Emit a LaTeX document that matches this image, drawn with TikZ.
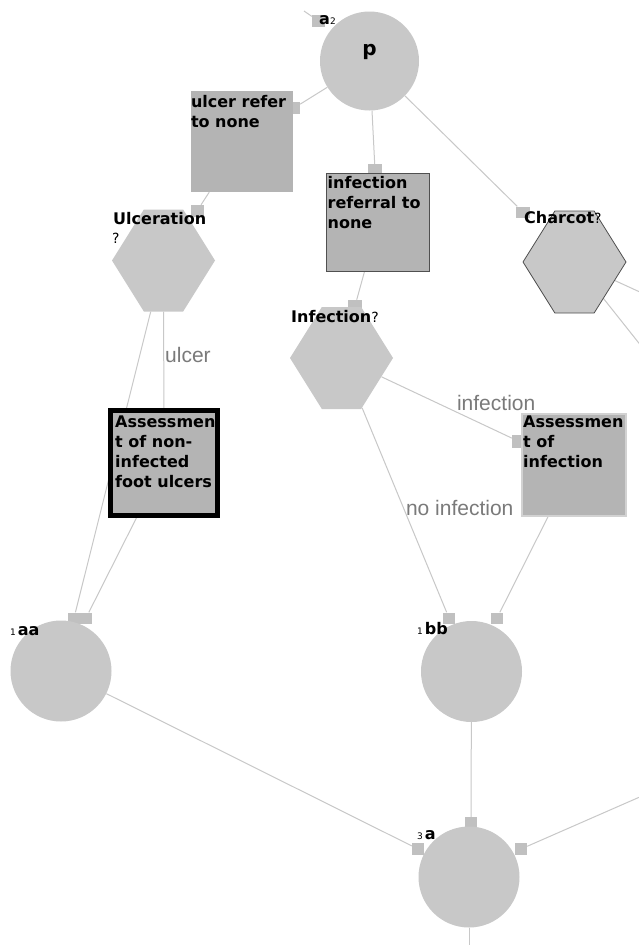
\documentclass[tikz,border=0pt]{standalone}
\usepackage{fontspec}
\setmainfont{DejaVu Sans}
\newfontfamily\linkfont{Liberation Sans}
\usetikzlibrary{shapes.geometric, shapes.symbols, positioning, calc}

\definecolor{shapegray}{HTML}{C8C8C8}
\definecolor{boxgray}{HTML}{B4B4B4}
\definecolor{portgray}{HTML}{C0C0C0}
\definecolor{linkgray}{HTML}{C8C8C8}
\definecolor{textgray}{HTML}{7A7A7A}
\definecolor{edgedark}{HTML}{505050}
\definecolor{boxedge}{HTML}{D2D2D2}

\pgfdeclarelayer{links}
\pgfdeclarelayer{ports}
\pgfsetlayers{links,ports,main}

\newcommand{\tagdigit}[1]{{\mdseries\fontsize{9}{9}\selectfont #1}}
\newcommand{\qmk}{{\mdseries\fontsize{14}{16}\selectfont ?}}

\tikzset{
  statecircle/.style={
    circle, fill=shapegray, inner sep=0pt, minimum size=101pt
  },
  choicehex/.style={
    signal, signal to=east and west, signal pointer angle=116,
    fill=shapegray, inner sep=0pt, minimum width=103pt, minimum height=102pt
  },
  actbox/.style={
    rectangle, fill=boxgray, inner sep=0pt
  },
  boxtext/.style={
    anchor=north west, inner sep=0pt, align=left,
    font=\bfseries\fontsize{16}{20}\selectfont
  },
  porttab/.style={
    rectangle, fill=portgray, inner sep=0pt,
    minimum width=12pt, minimum height=11pt
  },
  link/.style={draw=linkgray, line width=1pt},
  linklabel/.style={
    font=\linkfont\fontsize{21}{23}\selectfont, text=textgray, inner sep=1pt
  },
  choicetag/.style={
    anchor=base west, inner sep=0pt, font=\bfseries\fontsize{16}{18}\selectfont
  },
  statetag/.style={
    anchor=base west, inner sep=0pt, font=\bfseries\fontsize{16}{18}\selectfont
  },
}

\begin{document}
\begin{tikzpicture}[x=1pt, y=-1pt]
  \useasboundingbox (0,0) rectangle (638,945);
  \begin{pgfonlayer}{links}
    \fill[white] (0,0) rectangle (638,945);
  \end{pgfonlayer}

  % states
  \node[statecircle, minimum size=99pt] (p) at (369.5,61) {};
  \node[statecircle] (aa) at (61,671) {};
  \node[statecircle] (bb) at (471.5,671.5) {};
  \node[statecircle] (a) at (469,877) {};

  % decisions
  \node[choicehex] (ulc) at (163.5,260.5) {};
  \node[choicehex] (inf) at (341.5,358) {};
  \node[choicehex, draw=edgedark, line width=0.8pt] (char) at (574.5,262) {};

  % activities
  \node[actbox, minimum width=102pt, minimum height=101pt] (ubox) at (242,141.5) {};
  \node[actbox, draw=edgedark, line width=1pt,
    minimum width=103pt, minimum height=98pt] (irbox) at (378,222.5) {};
  \node[actbox, draw=black, line width=5pt,
    minimum width=107pt, minimum height=105pt] (abox) at (164,463) {};
  \node[actbox, draw=boxedge, line width=2pt,
    minimum width=104pt, minimum height=102pt] (ainf) at (574,465) {};

  % texts
  \node[boxtext] at ([yshift=-4pt]ubox.north west) {ulcer refer\\to none};
  \node[boxtext] at ([xshift=1.5pt,yshift=-3pt]irbox.north west) {infection\\referral to\\none};
  \node[boxtext] at ([xshift=7pt,yshift=-8pt]abox.north west) {Assessmen\\t of non-\\infected\\foot ulcers};
  \node[boxtext] at ([xshift=2pt,yshift=-3pt]ainf.north west) {Assessmen\\t of\\infection};

  \node[font=\bfseries\fontsize{20}{22}\selectfont, inner sep=0pt] (ptxt) at ([yshift=9.5pt]p.center) {p};
  \node[statetag] (ptag) at (319,24) {a\tagdigit{2}};
  \node[statetag] (aatag) at (10,635) {\tagdigit{1}\hspace{2pt}aa};
  \node[statetag] (bbtag) at (417,634) {\tagdigit{1}\hspace{2pt}bb};
  \node[statetag] (atag) at (417,839) {\tagdigit{3}\hspace{2pt}a};

  \node[choicetag] (ulctag) at (113,224) {Ulceration};
  \node[choicetag, font=\fontsize{14}{16}\selectfont] (ulcq) at (112,243) {?};
  \node[choicetag] (inftag) at (291,322) {Infection\qmk};
  \node[choicetag] (chartag) at (524,223) {Charcot\qmk};

  % ports
  \begin{pgfonlayer}{ports}
    \node[porttab, minimum width=13pt, minimum height=12pt] (pport) at (318.5,21) {};
    \node[porttab, minimum height=12pt] (uboxport) at (294,108) {};
    \node[porttab, minimum width=14pt, minimum height=12pt] (irport) at (375,170) {};
    \node[porttab, minimum width=13pt, minimum height=12pt] (ulcport) at (197,211) {};
    \node[porttab, minimum width=14pt, minimum height=12pt] (infport) at (355,306) {};
    \node[porttab, minimum width=14pt] (charport) at (523,212) {};
    \node[porttab, minimum height=13pt] (ainfport) at (518,441) {};
    \node[porttab] (aaportA) at (74,618) {};
    \node[porttab] (aaportB) at (86,618) {};
    \node[porttab] (bbportA) at (449,618) {};
    \node[porttab] (bbportB) at (497,618) {};
    \node[porttab, minimum height=12pt] (aportT) at (471,823) {};
    \node[porttab, minimum height=12pt] (aportL) at (418,849) {};
    \node[porttab, minimum height=12pt] (aportR) at (521,849) {};
  \end{pgfonlayer}

  % loose ends
  \coordinate (offtop) at (304,11);
  \coordinate (offright) at (642,796);
  \coordinate (offbottom) at (469,948);
  \coordinate (offcharA) at (642,293);
  \coordinate (offcharB) at (642,347);

  % links
  \begin{pgfonlayer}{links}
    \draw[link] (pport) -- (offtop);
    \draw[link] (p) -- (uboxport);
    \draw[link] (p) -- (irport);
    \draw[link] (p) -- (charport);
    \draw[link] (ulcport) -- (ubox);
    \draw[link] (infport) -- (irbox);
    \draw[link] (ulc) -- (aaportA);
    \draw[link] (ulc) -- node[linklabel, pos=0.45, right] {ulcer} (abox);
    \draw[link] (abox) -- (aaportB);
    \draw[link] (inf) -- node[linklabel, pos=0.88, above=19pt] {infection} (ainfport);
    \draw[link] (inf) -- node[linklabel, pos=0.49, right=1pt] {no infection} (bbportA);
    \draw[link] (ainf) -- (bbportB);
    \draw[link] (bb) -- (aportT);
    \draw[link] (aa) -- (aportL);
    \draw[link] (aportR) -- (offright);
    \draw[link] (a) -- (offbottom);
    \draw[link] (char) -- (offcharA);
    \draw[link] (char) -- (offcharB);
  \end{pgfonlayer}
\end{tikzpicture}
\end{document}
